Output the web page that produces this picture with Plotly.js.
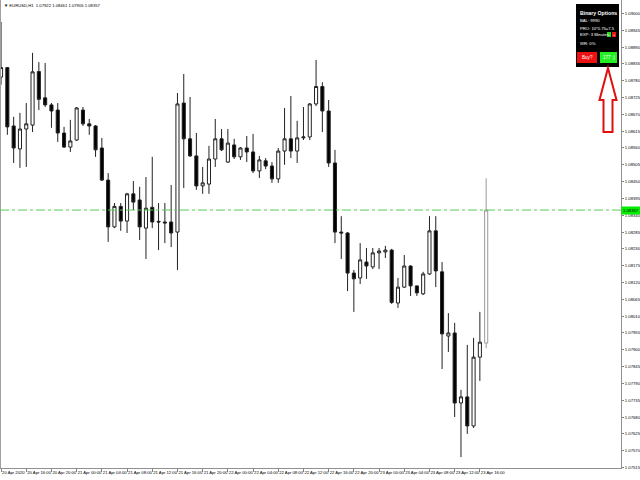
<!DOCTYPE html>
<html>
<head>
<meta charset="utf-8">
<script src="https://cdn.plot.ly/plotly-3.0.1.min.js"></script>
<style>html,body{margin:0;padding:0;background:#fff;}#chart{width:640px;height:480px;}</style>
</head>
<body>
<div id="chart"></div>
<script>
// EURUSD H1 bars (20 Apr 2020 12:00 -> 23 Apr 2020 17:00)
const times = [
'2020-04-20 12:00','2020-04-20 13:00','2020-04-20 14:00','2020-04-20 15:00','2020-04-20 16:00','2020-04-20 17:00',
'2020-04-20 18:00','2020-04-20 19:00','2020-04-20 20:00','2020-04-20 21:00','2020-04-20 22:00','2020-04-20 23:00',
'2020-04-21 00:00','2020-04-21 01:00','2020-04-21 02:00','2020-04-21 03:00','2020-04-21 04:00','2020-04-21 05:00',
'2020-04-21 06:00','2020-04-21 07:00','2020-04-21 08:00','2020-04-21 09:00','2020-04-21 10:00','2020-04-21 11:00',
'2020-04-21 12:00','2020-04-21 13:00','2020-04-21 14:00','2020-04-21 15:00','2020-04-21 16:00','2020-04-21 17:00',
'2020-04-21 18:00','2020-04-21 19:00','2020-04-21 20:00','2020-04-21 21:00','2020-04-21 22:00','2020-04-21 23:00',
'2020-04-22 00:00','2020-04-22 01:00','2020-04-22 02:00','2020-04-22 03:00','2020-04-22 04:00','2020-04-22 05:00',
'2020-04-22 06:00','2020-04-22 07:00','2020-04-22 08:00','2020-04-22 09:00','2020-04-22 10:00','2020-04-22 11:00',
'2020-04-22 12:00','2020-04-22 13:00','2020-04-22 14:00','2020-04-22 15:00','2020-04-22 16:00','2020-04-22 17:00',
'2020-04-22 18:00','2020-04-22 19:00','2020-04-22 20:00','2020-04-22 21:00','2020-04-22 22:00','2020-04-22 23:00',
'2020-04-23 00:00','2020-04-23 01:00','2020-04-23 02:00','2020-04-23 03:00','2020-04-23 04:00','2020-04-23 05:00',
'2020-04-23 06:00','2020-04-23 07:00','2020-04-23 08:00','2020-04-23 09:00','2020-04-23 10:00','2020-04-23 11:00',
'2020-04-23 12:00','2020-04-23 13:00','2020-04-23 14:00','2020-04-23 15:00','2020-04-23 16:00','2020-04-23 17:00'
];

const openP = [1.08792,1.08823,1.08632,1.08557,1.08622,1.08635,1.08810,1.08724,1.08701,1.08684,
1.08609,1.08563,1.08586,1.08684,1.08639,1.08632,1.08560,1.08455,1.08302,1.08369,
1.08321,1.08410,1.08390,1.08298,1.08366,1.08320,1.08318,1.08318,1.08285,1.08707,
1.08590,1.08534,1.08436,1.08442,1.08524,1.08590,1.08514,1.08570,1.08531,1.08560,
1.08547,1.08485,1.08518,1.08501,1.08459,1.08550,1.08590,1.08550,1.08593,1.08596,
1.08704,1.08761,1.08681,1.08511,1.08285,1.08282,1.08151,1.08135,1.08187,1.08171,
1.08217,1.08220,1.08226,1.08053,1.08105,1.08174,1.08109,1.08083,1.08148,1.08289,
1.08155,1.07945,1.07955,1.07726,1.07746,1.07651,1.07876,1.07922];

const highP = [1.08972,1.08825,1.08662,1.08675,1.08707,1.08871,1.08841,1.08838,1.08707,1.08707,
1.08629,1.08652,1.08694,1.08694,1.08655,1.08635,1.08593,1.08478,1.08380,1.08380,
1.08413,1.08452,1.08433,1.08465,1.08531,1.08380,1.08380,1.08439,1.08740,1.08802,
1.08727,1.08609,1.08498,1.08567,1.08655,1.08622,1.08622,1.08590,1.08563,1.08599,
1.08606,1.08534,1.08527,1.08514,1.08560,1.08691,1.08730,1.08649,1.08694,1.08707,
1.08848,1.08775,1.08717,1.08554,1.08337,1.08285,1.08161,1.08249,1.08233,1.08233,
1.08233,1.08240,1.08230,1.08135,1.08210,1.08176,1.08110,1.08155,1.08337,1.08337,
1.08187,1.08020,1.07988,1.07769,1.07916,1.07939,1.08024,1.08461];

const lowP = [1.08767,1.08603,1.08511,1.08495,1.08498,1.08612,1.08684,1.08694,1.08626,1.08580,
1.08560,1.08547,1.08583,1.08632,1.08603,1.08531,1.08452,1.08253,1.08298,1.08289,
1.08282,1.08357,1.08259,1.08197,1.08298,1.08226,1.08249,1.08236,1.08161,1.08429,
1.08531,1.08423,1.08410,1.08410,1.08498,1.08550,1.08511,1.08524,1.08521,1.08514,
1.08478,1.08462,1.08491,1.08446,1.08446,1.08505,1.08527,1.08511,1.08586,1.08586,
1.08697,1.08612,1.08498,1.08249,1.08197,1.08092,1.08024,1.08115,1.08132,1.08164,
1.08164,1.08200,1.08050,1.08037,1.08102,1.08076,1.08076,1.08079,1.08145,1.08105,
1.07837,1.07893,1.07680,1.07549,1.07625,1.07644,1.07798,1.07905];

const closeP = [1.08823,1.08629,1.08560,1.08622,1.08639,1.08809,1.08719,1.08701,1.08681,1.08609,
1.08563,1.08583,1.08691,1.08639,1.08632,1.08554,1.08455,1.08302,1.08369,1.08321,
1.08410,1.08383,1.08302,1.08363,1.08318,1.08318,1.08315,1.08282,1.08704,1.08590,
1.08534,1.08436,1.08446,1.08524,1.08590,1.08554,1.08576,1.08531,1.08560,1.08547,
1.08485,1.08521,1.08501,1.08459,1.08550,1.08590,1.08550,1.08593,1.08596,1.08704,
1.08761,1.08681,1.08511,1.08285,1.08282,1.08151,1.08132,1.08194,1.08174,1.08217,
1.08223,1.08226,1.08055,1.08105,1.08174,1.08109,1.08086,1.08148,1.08289,1.08158,
1.07952,1.07955,1.07726,1.07746,1.07651,1.07876,1.07925,1.08357];

const tickTimes = ['2020-04-20 12:00','2020-04-20 16:00','2020-04-20 20:00','2020-04-21 00:00','2020-04-21 04:00',
'2020-04-21 08:00','2020-04-21 12:00','2020-04-21 16:00','2020-04-21 20:00','2020-04-22 00:00','2020-04-22 04:00',
'2020-04-22 08:00','2020-04-22 12:00','2020-04-22 16:00','2020-04-22 20:00','2020-04-23 00:00','2020-04-23 04:00',
'2020-04-23 08:00','2020-04-23 12:00','2020-04-23 16:00'];
const tickLabels = ['20 Apr 2020','20 Apr 16:00','20 Apr 20:00','21 Apr 00:00','21 Apr 04:00','21 Apr 08:00',
'21 Apr 12:00','21 Apr 16:00','21 Apr 20:00','22 Apr 00:00','22 Apr 04:00','22 Apr 08:00','22 Apr 12:00',
'22 Apr 16:00','22 Apr 20:00','23 Apr 00:00','23 Apr 04:00','23 Apr 08:00','23 Apr 12:00','23 Apr 16:00'];

const symbolTitle = 'EURUSD,H1  1.07922 1.08461 1.07905 1.08357';
const bidPrice = 1.08357;

// layout geometry (pixels of the 640x480 page)
const W = 640, H = 480, ML = 0, MR = 19, MT = 0, MB = 12;
const PW = W - ML - MR, PH = H - MT - MB;
const px = x => (x - ML) / PW;
const py = y => 1 - (y - MT) / PH;

const n = times.length;
const main = {
  type: 'candlestick',
  x: times.slice(0, n - 1), open: openP.slice(0, n - 1), high: highP.slice(0, n - 1),
  low: lowP.slice(0, n - 1), close: closeP.slice(0, n - 1),
  increasing: {line: {color: '#222', width: 1}, fillcolor: '#ffffff'},
  decreasing: {line: {color: '#222', width: 1}, fillcolor: '#000000'},
  whiskerwidth: 0, hoverinfo: 'skip', showlegend: false
};
const last = {
  type: 'candlestick',
  x: times.slice(n - 1), open: openP.slice(n - 1), high: highP.slice(n - 1),
  low: lowP.slice(n - 1), close: closeP.slice(n - 1),
  increasing: {line: {color: '#9a9a9a', width: 1}, fillcolor: '#ffffff'},
  decreasing: {line: {color: '#9a9a9a', width: 1}, fillcolor: '#9a9a9a'},
  whiskerwidth: 0, hoverinfo: 'skip', showlegend: false
};

const smallFont = {family: 'Liberation Sans, Arial, sans-serif', size: 4.2, color: '#000'};
const white = (s, b) => ({family: 'Liberation Sans, Arial, sans-serif', size: s, color: '#fff', weight: b ? 'bold' : 'normal'});

const shapes = [
  {type: 'line', xref: 'paper', yref: 'paper', x0: 0, x1: 0, y0: 0, y1: 1, line: {color: '#a0a0a0', width: 2}},
  {type: 'line', xref: 'paper', yref: 'y', x0: 0, x1: 1, y0: bidPrice, y1: bidPrice, line: {color: '#55cc55', width: 1, dash: 'dashdot'}},
  {type: 'rect', xref: 'paper', yref: 'paper', x0: px(576), x1: px(619), y0: py(67), y1: py(4), fillcolor: '#000', line: {width: 0}},
  {type: 'rect', xref: 'paper', yref: 'paper', x0: px(607), x1: px(611), y0: py(37), y1: py(32), fillcolor: '#22dd22', line: {width: 0}},
  {type: 'rect', xref: 'paper', yref: 'paper', x0: px(612), x1: px(616), y0: py(37), y1: py(32), fillcolor: '#ee1111', line: {width: 0}},
  {type: 'rect', xref: 'paper', yref: 'paper', x0: px(577), x1: px(597), y0: py(63), y1: py(52), fillcolor: '#ee1111', line: {width: 0}},
  {type: 'rect', xref: 'paper', yref: 'paper', x0: px(600), x1: px(617), y0: py(63), y1: py(52), fillcolor: '#22ee22', line: {width: 0}},
  {type: 'path', xref: 'paper', yref: 'paper',
   path: 'M' + px(608) + ',' + py(68) + ' L' + px(616.5) + ',' + py(100) + ' L' + px(612.5) + ',' + py(100) +
         ' L' + px(612.5) + ',' + py(132) + ' L' + px(603.5) + ',' + py(132) + ' L' + px(603.5) + ',' + py(100) +
         ' L' + px(599.5) + ',' + py(100) + ' Z',
   fillcolor: '#ffffff', line: {color: '#e01010', width: 2}}
];

const ann = (x, y, text, font, extra) => Object.assign({xref: 'paper', yref: 'paper', x: px(x), y: py(y), text: text,
  showarrow: false, xanchor: 'left', yanchor: 'middle', font: font}, extra || {});

const annotations = [
  ann(2, 6, '▼ ' + symbolTitle, smallFont),
  ann(578, 12.5, 'Binary Options', white(5.2, true)),
  ann(578, 20.5, 'BAL: 9990', white(4.2)),
  ann(578, 28.5, 'PRO: 10*0.75=7.5', white(4.2)),
  ann(578, 35, 'EXP: 3 Minutes', white(4.2)),
  ann(609, 34.5, '-', white(4), {xanchor: 'center'}),
  ann(614, 34.5, '+', white(4), {xanchor: 'center'}),
  ann(578, 43, 'WR: 0%', white(4.2)),
  ann(587, 57.5, 'Buy?', white(4.6), {xanchor: 'center'}),
  ann(608.5, 57.5, '177 :)', white(4.6), {xanchor: 'center'}),
  {xref: 'paper', yref: 'y', x: 1, y: bidPrice, text: bidPrice.toFixed(5), showarrow: false, xanchor: 'left',
   yanchor: 'middle', bgcolor: '#00ee00', borderpad: 1, font: smallFont}
];

const layout = {
  width: W, height: H,
  margin: {l: ML, r: MR, t: MT, b: MB, pad: 0},
  paper_bgcolor: '#ffffff', plot_bgcolor: '#ffffff',
  showlegend: false,
  xaxis: {
    type: 'date', range: ['2020-04-20 11:50', '2020-04-24 14:24'],
    rangeslider: {visible: false},
    tickmode: 'array', tickvals: tickTimes, ticktext: tickLabels,
    ticks: 'outside', ticklen: 3, tickcolor: '#808080', tickwidth: 1,
    ticklabelposition: 'outside right', tickangle: 0, automargin: false,
    tickfont: smallFont, showgrid: false, zeroline: false,
    showline: true, linecolor: '#909090', linewidth: 1, fixedrange: true
  },
  yaxis: {
    side: 'right', range: [1.075134, 1.09044], automargin: false,
    tick0: 1.07515, dtick: 0.00055, tickformat: '.5f',
    ticks: 'outside', ticklen: 2, tickcolor: '#808080', tickwidth: 1,
    tickfont: smallFont, showgrid: false, zeroline: false,
    showline: true, linecolor: '#909090', linewidth: 1, fixedrange: true
  },
  shapes: shapes,
  annotations: annotations
};

Plotly.newPlot('chart', [main, last], layout, {staticPlot: true, displayModeBar: false});
</script>
</body>
</html>
